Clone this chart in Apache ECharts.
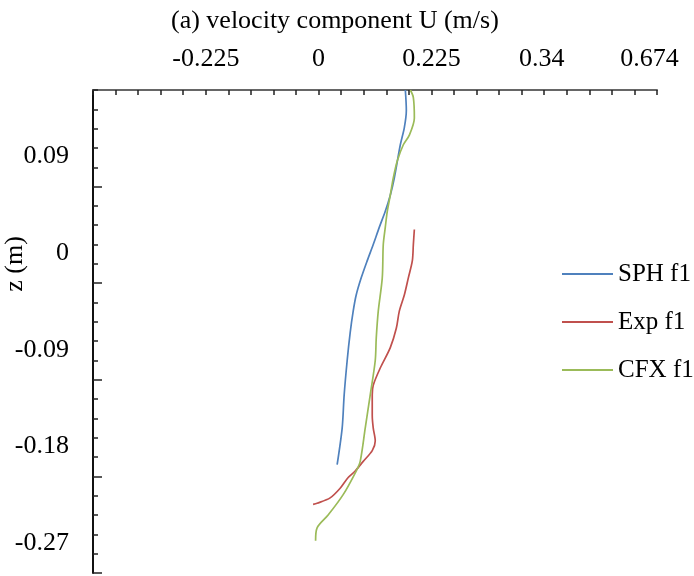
<!DOCTYPE html>
<html>
<head>
<meta charset="utf-8">
<script src="https://cdn.jsdelivr.net/npm/echarts@6/dist/echarts.min.js"></script>
<style>
  html, body { margin: 0; padding: 0; background: #fff; }
  #chart { width: 694px; height: 576px; }
</style>
</head>
<body>
<div id="chart"></div>
<script>
// Top axis tick labels and the positions they sit at
const uTickValues = [-0.225, 0, 0.225, 0.445, 0.66];
const uTickLabels = ['-0.225', '0', '0.225', '0.34', '0.674'];
// Left axis tick labels
const zTickValues = [0.09, 0, -0.09, -0.18, -0.27];
const zTickLabels = ['0.09', '0', '-0.09', '-0.18', '-0.27'];
// Heights of the longer marks on the left axis
const zMajorTicks = [0.062, -0.028, -0.118, -0.208, -0.298];

// SPH f1 profile: velocity U (m/s) against height z (m)
const sphU = [0.173, 0.175, 0.171, 0.163, 0.151, 0.143, 0.133, 0.121, 0.109, 0.097, 0.085, 0.075, 0.069, 0.063, 0.057, 0.051, 0.047, 0.037];
const sphZ = [0.152, 0.133, 0.117, 0.101, 0.070, 0.054, 0.039, 0.024, 0.008, -0.007, -0.023, -0.039, -0.054, -0.074, -0.100, -0.132, -0.163, -0.197];

// Experimental profile
const expU = [0.191, 0.189, 0.187, 0.179, 0.171, 0.161, 0.155, 0.143, 0.123, 0.109, 0.107, 0.107, 0.109, 0.113, 0.107, 0.089, 0.073, 0.059, 0.043, 0.023, -0.003, -0.011];
const expZ = [0.022, 0.008, -0.007, -0.023, -0.039, -0.054, -0.070, -0.088, -0.107, -0.123, -0.132, -0.151, -0.163, -0.175, -0.184, -0.194, -0.203, -0.209, -0.219, -0.228, -0.233, -0.234];

// CFX profile
const cfxU = [0.183, 0.189, 0.191, 0.181, 0.169, 0.157, 0.149, 0.143, 0.137, 0.133, 0.129, 0.127, 0.119, 0.115, 0.113, 0.103, 0.093, 0.083, 0.075, 0.049, 0.019, -0.003, -0.006];
const cfxZ = [0.152, 0.145, 0.126, 0.110, 0.101, 0.086, 0.070, 0.054, 0.039, 0.024, 0.008, -0.023, -0.054, -0.079, -0.100, -0.132, -0.163, -0.194, -0.203, -0.225, -0.244, -0.256, -0.268];

const pairs = (u, z) => u.map((v, i) => [v, z[i]]);
const pick = (vals, labels) => (v) => {
  const i = vals.findIndex(t => Math.abs(t - v) < 1e-6);
  return i >= 0 ? labels[i] : '';
};

const serif = 'Liberation Serif, Times New Roman, serif';
const chart = echarts.init(document.getElementById('chart'));

chart.setOption({
  animation: false,
  backgroundColor: '#fff',
  title: {
    text: '(a) velocity component U (m/s)',
    left: 166,
    top: 3,
    textStyle: { fontFamily: serif, fontSize: 26, fontWeight: 'normal', color: '#000' }
  },
  legend: {
    orient: 'vertical',
    left: 557,
    top: 255,
    icon: 'rect',
    itemWidth: 51,
    itemHeight: 2,
    itemGap: 20,
    textStyle: { fontFamily: serif, fontSize: 25, lineHeight: 28, color: '#000' },
    data: ['SPH f1', 'Exp f1', 'CFX f1']
  },
  graphic: [{
    type: 'text',
    x: 15,
    y: 264,
    rotation: Math.PI / 2,
    style: { text: 'z (m)', font: '26px ' + serif, fill: '#000', align: 'center', verticalAlign: 'middle' }
  }],
  grid: { left: 93, top: 90, right: 37, bottom: 3, containLabel: false },
  xAxis: [{
    type: 'value',
    position: 'top',
    min: -0.45,
    max: 0.675,
    interval: 0.045,
    axisLine: { show: true, onZero: false, lineStyle: { color: '#666', width: 2 } },
    axisTick: { show: true, inside: true, length: 5, lineStyle: { color: '#222', width: 1.5 } },
    axisLabel: {
      customValues: uTickValues,
      formatter: pick(uTickValues, uTickLabels),
      margin: 18,
      fontFamily: serif, fontSize: 26, color: '#000'
    },
    splitLine: { show: false }
  }],
  yAxis: [{
    type: 'value',
    min: -0.298,
    max: 0.152,
    interval: 0.018,
    axisLine: { show: true, onZero: false, lineStyle: { color: '#111', width: 2 } },
    axisTick: { show: true, inside: true, length: 5, lineStyle: { color: '#222', width: 1.5 } },
    axisLabel: {
      customValues: zTickValues,
      formatter: pick(zTickValues, zTickLabels),
      margin: 24,
      fontFamily: serif, fontSize: 26, color: '#000'
    },
    splitLine: { show: false }
  }, {
    // longer marks every fifth tick
    type: 'value',
    position: 'left',
    offset: 0,
    min: -0.298,
    max: 0.152,
    axisLine: { show: false, onZero: false },
    axisTick: { show: true, inside: true, length: 9, customValues: zMajorTicks, lineStyle: { color: '#222', width: 1.5 } },
    axisLabel: { show: false },
    splitLine: { show: false }
  }],
  series: [
    { name: 'SPH f1', type: 'line', data: pairs(sphU, sphZ), smooth: 0.3, symbol: 'none',
      lineStyle: { color: '#4F81BD', width: 1.7 }, itemStyle: { color: '#4F81BD' } },
    { name: 'Exp f1', type: 'line', data: pairs(expU, expZ), smooth: 0.3, symbol: 'none',
      lineStyle: { color: '#C0504D', width: 1.7 }, itemStyle: { color: '#C0504D' } },
    { name: 'CFX f1', type: 'line', data: pairs(cfxU, cfxZ), smooth: 0.3, symbol: 'none',
      lineStyle: { color: '#9BBB59', width: 1.7 }, itemStyle: { color: '#9BBB59' } }
  ]
});
</script>
</body>
</html>
